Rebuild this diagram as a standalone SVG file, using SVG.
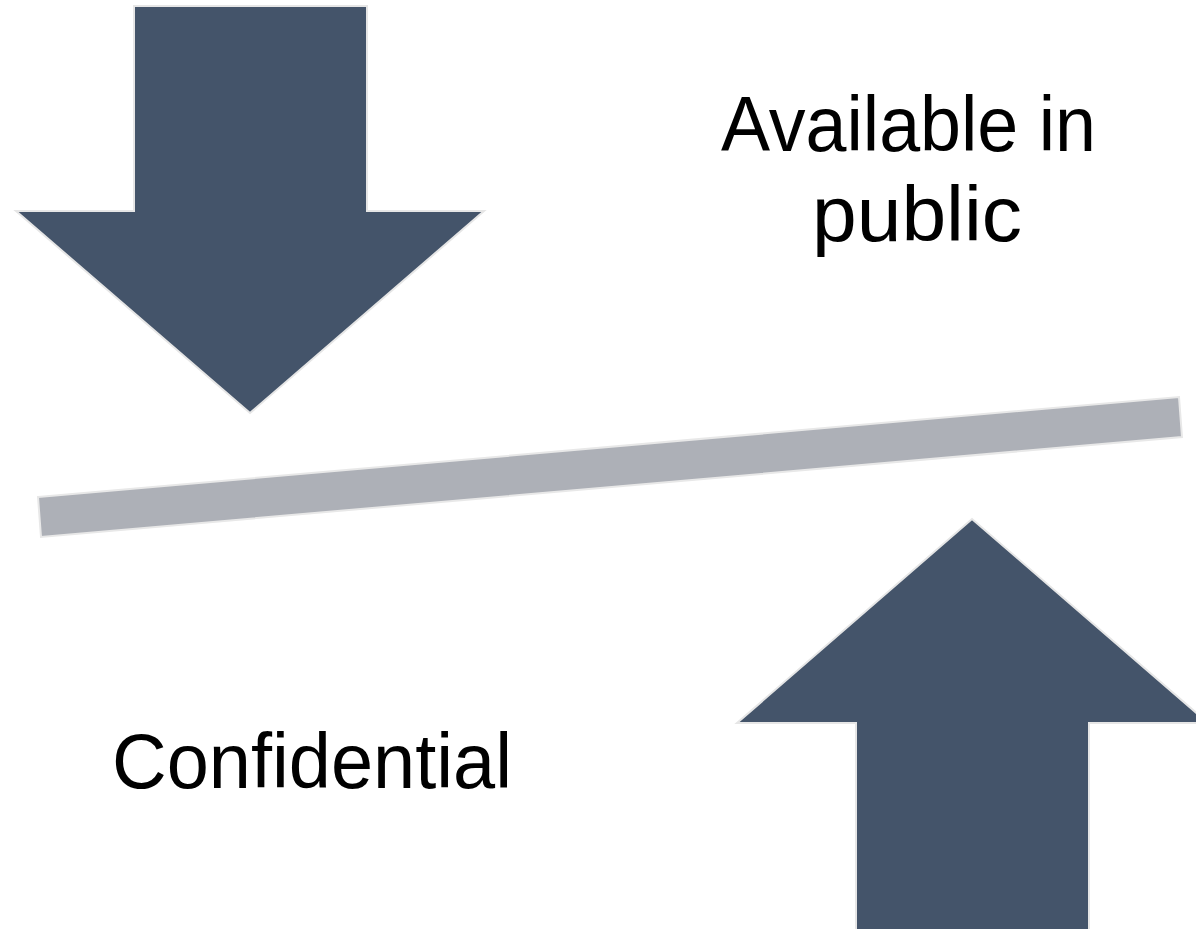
<svg xmlns="http://www.w3.org/2000/svg" width="1196" height="929" viewBox="0 0 1196 929">
<style>
.arrow{fill:#44546a;stroke:#e6e6e6;stroke-width:2;stroke-linejoin:miter}
.bar{fill:#adb0b7;stroke:#e8e8e8;stroke-width:2}
.lbl{font-family:"Liberation Sans",Arial,sans-serif;font-size:77px;fill:#000}
</style>
<rect width="1196" height="929" fill="#ffffff"/>
<g id="arrow-down">
<polygon class="arrow" points="134,6 367,6 367,211 484,211 250,413 16,211 134,211"/>
</g>
<g id="balance-bar">
<polygon class="bar" points="38,497 1179,397 1182,437 41,537"/>
</g>
<g id="arrow-up">
<polygon class="arrow" points="972,519 1208,723 1089,723 1089,935 856,935 856,723 737,723"/>
</g>
<g id="label-public">
<text class="lbl" x="721" y="151" textLength="375" lengthAdjust="spacingAndGlyphs">Available in</text>
<text class="lbl" x="812" y="241" textLength="210" lengthAdjust="spacingAndGlyphs">public</text>
</g>
<g id="label-confidential">
<text class="lbl" x="112" y="788" textLength="400" lengthAdjust="spacingAndGlyphs">Confidential</text>
</g>
<g id="connectors"></g>
</svg>
